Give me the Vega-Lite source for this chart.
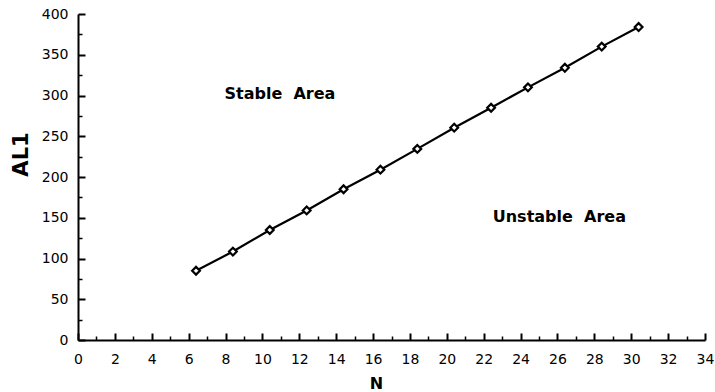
{
  "$schema": "https://vega.github.io/schema/vega-lite/v6.json",
  "width": 627,
  "height": 326,
  "autosize": {"type": "none"},
  "padding": {"left": 78, "top": 14, "right": 10, "bottom": 52},
  "background": "white",
  "config": {
    "view": {"stroke": null},
    "font": "DejaVu Sans",
    "axis": {
      "grid": false,
      "labelFlush": false,
      "labelOverlap": false,
      "labelBound": false,
      "labelColor": "black",
      "labelFont": "DejaVu Sans",
      "labelFontSize": 14,
      "tickColor": "black",
      "domainColor": "black",
      "titleColor": "black",
      "titleFont": "DejaVu Sans",
      "titleFontWeight": "bold"
    }
  },
  "datasets": {
    "curve": [
      {"N": 6.4, "AL1": 85},
      {"N": 8.4, "AL1": 108.5},
      {"N": 10.4, "AL1": 135},
      {"N": 12.4, "AL1": 159},
      {"N": 14.4, "AL1": 185},
      {"N": 16.4, "AL1": 209},
      {"N": 18.4, "AL1": 234.5},
      {"N": 20.4, "AL1": 260.5},
      {"N": 22.4, "AL1": 285},
      {"N": 24.4, "AL1": 310},
      {"N": 26.4, "AL1": 334},
      {"N": 28.4, "AL1": 360},
      {"N": 30.4, "AL1": 384}
    ],
    "notes": [
      {"N": 10.95, "AL1": 302, "label": "Stable\u00a0 Area"},
      {"N": 26.1, "AL1": 151, "label": "Unstable\u00a0 Area"}
    ]
  },
  "resolve": {"axis": {"x": "independent", "y": "independent"}},
  "layer": [
    {
      "data": {"name": "curve"},
      "mark": {"type": "line", "color": "black", "strokeWidth": 2.2},
      "encoding": {
        "x": {
          "field": "N", "type": "quantitative",
          "scale": {"domain": [0, 34], "nice": false, "zero": false},
          "axis": {
            "orient": "bottom",
            "values": [0, 2, 4, 6, 8, 10, 12, 14, 16, 18, 20, 22, 24, 26, 28, 30, 32, 34],
            "format": "d",
            "tickSize": -7, "tickWidth": 2, "domainWidth": 2,
            "labelPadding": 19,
            "title": "N", "titleFontSize": 16, "titlePadding": 9, "titleX": 298
          }
        },
        "y": {
          "field": "AL1", "type": "quantitative",
          "scale": {"domain": [0, 400], "nice": false},
          "axis": {
            "orient": "left",
            "values": [0, 50, 100, 150, 200, 250, 300, 350, 400],
            "format": "d",
            "tickSize": -7, "tickWidth": 2, "domainWidth": 2,
            "labelPadding": 17,
            "title": "AL1", "titleFontSize": 21, "titlePadding": 10, "titleY": 140
          }
        }
      }
    },
    {
      "data": {"name": "curve"},
      "mark": {"type": "point", "shape": "diamond", "size": 60, "filled": true, "fill": "white", "stroke": "black", "strokeWidth": 2.2, "opacity": 1},
      "encoding": {
        "x": {
          "field": "N", "type": "quantitative",
          "axis": {
            "orient": "bottom",
            "values": [1, 3, 5, 7, 9, 11, 13, 15, 17, 19, 21, 23, 25, 27, 29, 31, 33],
            "labels": false, "domain": false,
            "tickSize": -4, "tickWidth": 1.5, "title": null
          }
        },
        "y": {
          "field": "AL1", "type": "quantitative",
          "axis": {
            "orient": "left",
            "values": [25, 75, 125, 175, 225, 275, 325, 375],
            "labels": false, "domain": false,
            "tickSize": -4, "tickWidth": 1.5, "title": null
          }
        }
      }
    },
    {
      "data": {"name": "notes"},
      "mark": {"type": "text", "font": "DejaVu Sans", "fontWeight": "bold", "fontSize": 16, "align": "center", "baseline": "middle", "color": "black"},
      "encoding": {
        "x": {"field": "N", "type": "quantitative", "axis": null},
        "y": {"field": "AL1", "type": "quantitative", "axis": null},
        "text": {"field": "label", "type": "nominal"}
      }
    }
  ]
}
